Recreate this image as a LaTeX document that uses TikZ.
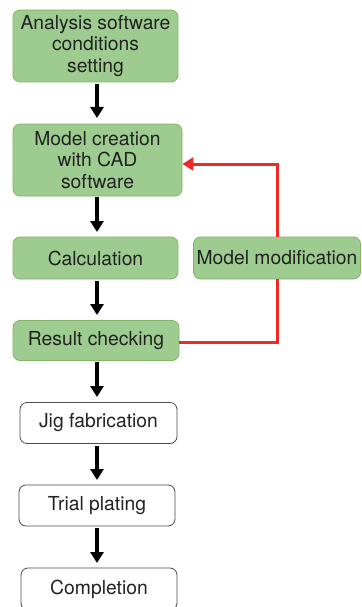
\documentclass[tikz,border=0pt]{standalone}
\usepackage{fontspec}
\setmainfont{TeX Gyre Heros}
\usetikzlibrary{arrows.meta,calc}
\definecolor{gfill}{HTML}{9DCB90}
\definecolor{gdraw}{HTML}{82B366}
\definecolor{redline}{HTML}{EE2A24}
\definecolor{txt}{HTML}{222222}
\tikzset{
  box/.style={rounded corners=7pt, line width=0.8pt, text=txt, font=\fontsize{19.3}{21.5}\selectfont, align=center, inner sep=0pt},
  gbox/.style={box, draw=gdraw, fill=gfill},
  wbox/.style={box, draw=black!70, fill=white},
  flow/.style={line width=3.5pt, -{Triangle[width=13pt,length=11pt]}},
  back/.style={line width=3pt, draw=redline, color=redline},
  backarrow/.style={back, -{Triangle[width=13pt,length=11pt]}}
}
\begin{document}
\begin{tikzpicture}[x=1pt,y=1pt]
\useasboundingbox (0,0) rectangle (361,-607);
\node[gbox, minimum width=165pt, minimum height=72pt] (a) at (95.5,-46) {Analysis software\\conditions\\setting};
\node[gbox, minimum width=169pt, minimum height=72pt] (b) at (97.5,-160) {Model creation\\with CAD\\software};
\node[gbox, minimum width=165pt, minimum height=42pt] (c) at (95.5,-258) {Calculation};
\node[gbox, minimum width=167pt, minimum height=42pt] (m) at (277,-258) {Model modification};
\node[gbox, minimum width=166pt, minimum height=40pt] (r) at (96,-340.5) {Result checking};
\node[wbox, minimum width=157pt, minimum height=41pt] (j) at (98.5,-423) {Jig fabrication};
\node[wbox, minimum width=156pt, minimum height=41pt] (t) at (97,-505.5) {Trial plating};
\node[wbox, minimum width=156pt, minimum height=42pt] (e) at (99,-589) {Completion};
\draw[flow] (97,-84) -- (97,-118);
\draw[flow] (97,-197) -- (97,-232);
\draw[flow] (97,-281) -- (97,-315);
\draw[flow] (97,-362) -- (97,-397);
\draw[flow] (97,-446) -- (97,-480);
\draw[flow] (97,-528) -- (97,-563);
\coordinate (k1) at (277,-342);
\coordinate (k2) at (277,-164);
\draw[back] (r.east |- k1) -- (k1) -- (m.south);
\draw[backarrow] (m.north) -- (k2) -- (b.east |- k2);
\end{tikzpicture}
\end{document}
